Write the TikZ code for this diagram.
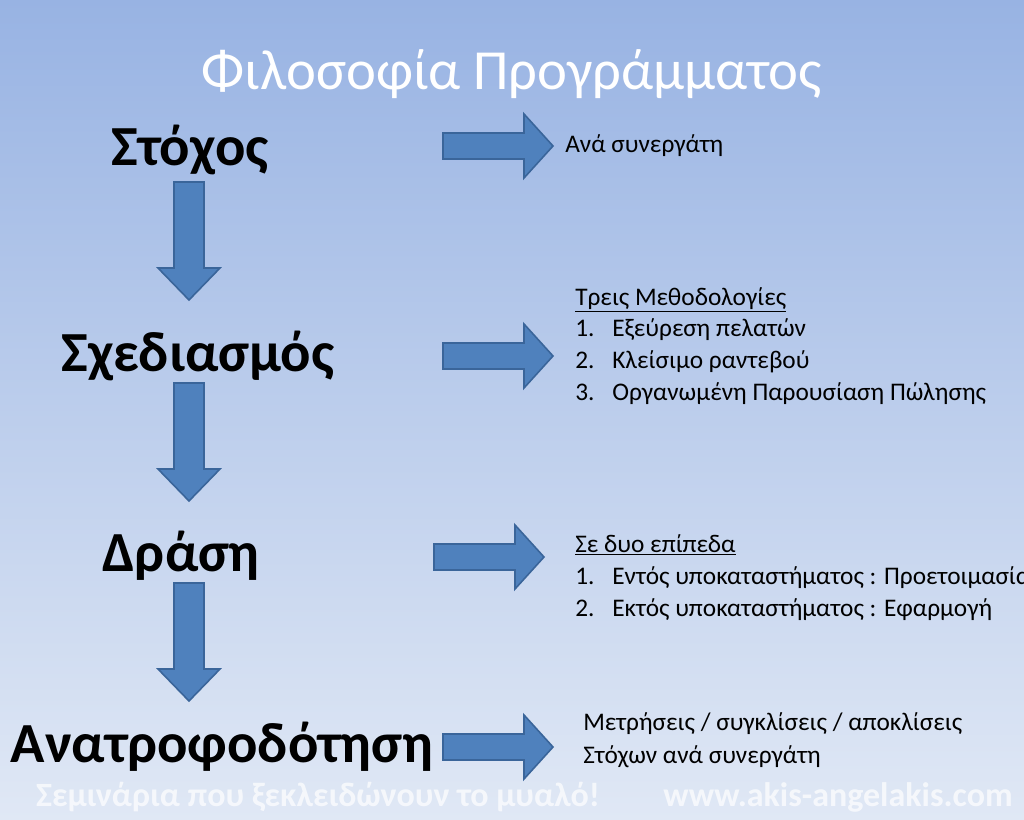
\documentclass[tikz,border=0pt]{standalone}
\usepackage{fontspec}
\setmainfont{Carlito}
\definecolor{arrowblue}{HTML}{4F81BD}
\definecolor{arrowedge}{HTML}{3A659A}
\definecolor{bgtop}{HTML}{98B3E3}
\definecolor{bgbottom}{HTML}{E0E8F5}
\begin{document}
\begin{tikzpicture}[
  x=0.75pt, y=-0.75pt,
  title/.style={font=\fontsize{42.5}{48}\selectfont, text=white, anchor=base, inner sep=0pt},
  stage/.style={font=\fontsize{42.5}{48}\selectfont\bfseries, anchor=base, inner sep=0pt},
  note/.style={font=\fontsize{19}{22}\selectfont, anchor=base west, inner sep=0pt},
  footer/.style={font=\fontsize{25.5}{28}\selectfont\bfseries, text=white, text opacity=0.7, anchor=base, inner sep=0pt},
  blockarrow/.style={fill=arrowblue, draw=arrowedge, line width=1.2pt, line join=miter},
  pics/rightarrow/.style={code={
    \draw[blockarrow] (0,-13) -- (81,-13) -- (81,-32) -- (110,0) -- (81,32) -- (81,13) -- (0,13) -- cycle;}},
  pics/downarrow/.style={code={
    \draw[blockarrow] (-15,0) -- (15,0) -- (15,86) -- (31,86) -- (0,118) -- (-31,86) -- (-15,86) -- cycle;}}
]
  % background
  \shade[top color=bgtop, bottom color=bgbottom] (0,0) rectangle (1024,820);
  \useasboundingbox (0,0) rectangle (1024,820);

  \node[title] (heading) at (512,90) {Φιλοσοφία Προγράμματος};

  % stages on the left
  \node[stage] (goal) at (190,166) {Στόχος};
  \node[stage] (design) at (198,371) {Σχεδιασμός};
  \node[stage] (action) at (181,571) {Δράση};
  \node[stage] (feedback) at (222,762) {Ανατροφοδότηση};

  \pic at (189,182) {downarrow};
  \pic at (189,383) {downarrow};
  \pic at (189,583) {downarrow};

  \pic at (443,146) {rightarrow};
  \pic at (443,356) {rightarrow};
  \pic at (434,557) {rightarrow};
  \pic at (443,747) {rightarrow};

  % notes on the right
  \node[note] (goalnote) at (565,152) {Ανά συνεργάτη};

  \node[note] (designhead) at (575,305) {\underline{Τρεις Μεθοδολογίες}};
  \node[note] (designa) at (575,336) {1.};
  \node[note] at (612,336) {Εξεύρεση πελατών};
  \node[note] (designb) at (575,368) {2.};
  \node[note] at (612,368) {Κλείσιμο ραντεβού};
  \node[note] (designc) at (575,400) {3.};
  \node[note] at (612,400) {Οργανωμένη Παρουσίαση Πώλησης};

  \node[note] (actionhead) at (575,552) {\underline{Σε δυο επίπεδα}};
  \node[note] (actiona) at (575,584) {1.};
  \node[note] at (612,584) {Εντός υποκαταστήματος : Προετοιμασία};
  \node[note] (actionb) at (575,616) {2.};
  \node[note] at (612,616) {Εκτός υποκαταστήματος : Εφαρμογή};

  \node[note] (feedbacka) at (583,730) {Μετρήσεις / συγκλίσεις / αποκλίσεις};
  \node[note] (feedbackb) at (583,763) {Στόχων ανά συνεργάτη};

  % footer
  \node[footer] (slogan) at (318,806) {Σεμινάρια που ξεκλειδώνουν το μυαλό!};
  \node[footer] (site) at (838,806) {www.akis-angelakis.com};
\end{tikzpicture}
\end{document}
